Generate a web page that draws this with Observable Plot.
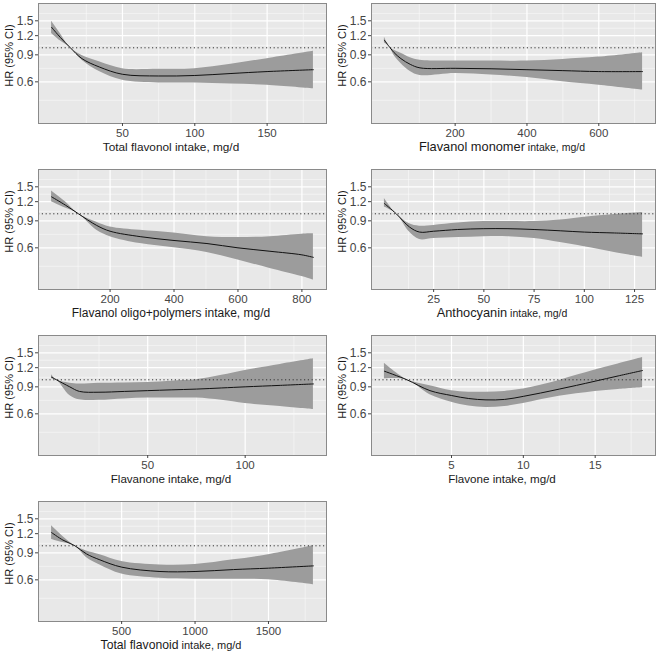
<!DOCTYPE html>
<html><head><meta charset="utf-8">
<script src="https://cdn.jsdelivr.net/npm/d3@7"></script>
<script src="https://cdn.jsdelivr.net/npm/@observablehq/plot@0.6"></script>
<style>
body{margin:0;background:#fff;}
#fig{position:relative;width:661px;height:653px;font-family:"Liberation Sans",Arial,Helvetica,sans-serif;}
.panel{position:absolute;}
</style></head><body><div id="fig"></div>
<script>
// shared y axis (hazard ratio, log scale)
const yTicks = [0.6, 0.9, 1.2, 1.5];
const yMinor = [0.455, 0.735, 1.039, 1.342, 1.677];
const yDomain = [0.321, 1.945];
const refHR = [1];
const yTitle = "HR (95% CI)";

// Panel 1: Total flavonol
const p1X  = [1, 7, 14, 22, 34, 50, 75, 100, 125, 150, 182];
const p1HR = [1.36, 1.17, 1.0, 0.85, 0.75, 0.672, 0.655, 0.66, 0.68, 0.70, 0.72];
const p1Lo = [1.24, 1.11, 1.0, 0.83, 0.70, 0.614, 0.59, 0.59, 0.58, 0.57, 0.54];
const p1Hi = [1.49, 1.24, 1.0, 0.89, 0.81, 0.73, 0.725, 0.73, 0.78, 0.85, 0.95];
const p1Ticks = [50, 100, 150], p1Minor = [25, 75, 125, 175];

// Panel 2: Flavanol monomer
const p2X  = [3, 19, 30, 49, 75, 102, 200, 300, 400, 500, 600, 722];
const p2HR = [1.12, 1.0, 0.93, 0.85, 0.78, 0.74, 0.735, 0.73, 0.72, 0.71, 0.70, 0.70];
const p2Lo = [1.08, 1.0, 0.89, 0.79, 0.70, 0.66, 0.68, 0.665, 0.64, 0.60, 0.57, 0.53];
const p2Hi = [1.17, 1.0, 0.965, 0.92, 0.86, 0.83, 0.82, 0.82, 0.82, 0.84, 0.87, 0.93];
const p2Ticks = [200, 400, 600], p2Minor = [100, 300, 500, 700];

// Panel 3: Flavanol oligo+polymers
const p3X  = [17, 60, 101, 158, 200, 294, 400, 503, 600, 700, 800, 836];
const p3HR = [1.29, 1.14, 1.0, 0.84, 0.77, 0.71, 0.67, 0.64, 0.60, 0.57, 0.54, 0.52];
const p3Lo = [1.20, 1.09, 1.0, 0.78, 0.71, 0.64, 0.60, 0.56, 0.50, 0.44, 0.39, 0.37];
const p3Hi = [1.41, 1.20, 1.0, 0.88, 0.82, 0.78, 0.75, 0.71, 0.70, 0.71, 0.737, 0.74];
const p3Ticks = [200, 400, 600, 800], p3Minor = [100, 300, 500, 700];

// Panel 4: Anthocyanin
const p4X  = [0.5, 6.4, 13, 18, 25, 37, 50, 62, 75, 88, 100, 115, 129];
const p4HR = [1.167, 1.0, 0.82, 0.76, 0.77, 0.79, 0.80, 0.80, 0.79, 0.775, 0.76, 0.75, 0.74];
const p4Lo = [1.107, 1.0, 0.76, 0.68, 0.69, 0.70, 0.71, 0.71, 0.69, 0.65, 0.61, 0.56, 0.52];
const p4Hi = [1.26, 1.0, 0.86, 0.83, 0.84, 0.87, 0.89, 0.89, 0.89, 0.91, 0.95, 0.99, 1.02];
const p4Ticks = [25, 50, 75, 100, 125], p4Minor = [12.5, 37.5, 62.5, 87.5, 112.5];

// Panel 5: Flavanone
const p5X  = [0.7, 3.2, 10, 15, 25, 38, 50, 62, 75, 88, 100, 118, 135];
const p5HR = [1.04, 1.0, 0.90, 0.84, 0.83, 0.84, 0.85, 0.86, 0.87, 0.885, 0.90, 0.92, 0.94];
const p5Lo = [1.015, 1.0, 0.79, 0.74, 0.735, 0.75, 0.76, 0.76, 0.76, 0.735, 0.70, 0.67, 0.64];
const p5Hi = [1.08, 1.0, 0.95, 0.94, 0.95, 0.955, 0.96, 0.98, 1.00, 1.07, 1.15, 1.26, 1.37];
const p5Ticks = [50, 100], p5Minor = [25, 75, 125];

// Panel 6: Flavone
const p6X  = [0.33, 1.9, 3.5, 5, 6.2, 7.4, 8.7, 10, 11.2, 12.5, 13.7, 15, 16.6, 18.3];
const p6HR = [1.138, 1.0, 0.85, 0.79, 0.755, 0.74, 0.745, 0.78, 0.82, 0.87, 0.92, 0.98, 1.06, 1.15];
const p6Lo = [1.015, 1.0, 0.80, 0.715, 0.675, 0.66, 0.67, 0.70, 0.74, 0.78, 0.81, 0.84, 0.865, 0.887];
const p6Hi = [1.28, 1.0, 0.915, 0.85, 0.83, 0.83, 0.84, 0.87, 0.92, 0.99, 1.07, 1.16, 1.27, 1.40];
const p6Ticks = [5, 10, 15], p6Minor = [2.5, 7.5, 12.5, 17.5];

// Panel 7: Total flavonoid
const p7X  = [23, 100, 182, 260, 352, 500, 761, 1000, 1261, 1500, 1806];
const p7HR = [1.22, 1.09, 1.0, 0.886, 0.81, 0.726, 0.68, 0.68, 0.70, 0.715, 0.74];
const p7Lo = [1.10, 1.05, 1.0, 0.84, 0.75, 0.655, 0.615, 0.606, 0.606, 0.60, 0.557];
const p7Hi = [1.35, 1.15, 1.0, 0.925, 0.875, 0.79, 0.75, 0.755, 0.81, 0.875, 1.00];
const p7Ticks = [500, 1000, 1500], p7Minor = [250, 750, 1250, 1750];

const panels = [
  {main: "Total flavonol", mainSize: 11.8, rest: " intake, mg/d", restSize: 11.8, x: p1X, hr: p1HR, lo: p1Lo, hi: p1Hi, ticks: p1Ticks, minor: p1Minor},
  {main: "Flavanol monomer", mainSize: 12.8, rest: " intake, mg/d", restSize: 10.5, x: p2X, hr: p2HR, lo: p2Lo, hi: p2Hi, ticks: p2Ticks, minor: p2Minor},
  {main: "Flavanol oligo+polymers", mainSize: 12, rest: " intake, mg/d", restSize: 12, x: p3X, hr: p3HR, lo: p3Lo, hi: p3Hi, ticks: p3Ticks, minor: p3Minor},
  {main: "Anthocyanin", mainSize: 12.8, rest: " intake, mg/d", restSize: 10.5, x: p4X, hr: p4HR, lo: p4Lo, hi: p4Hi, ticks: p4Ticks, minor: p4Minor},
  {main: "Flavanone", mainSize: 11.6, rest: " intake, mg/d", restSize: 11.6, x: p5X, hr: p5HR, lo: p5Lo, hi: p5Hi, ticks: p5Ticks, minor: p5Minor},
  {main: "Flavone", mainSize: 11.6, rest: " intake, mg/d", restSize: 11.6, x: p6X, hr: p6HR, lo: p6Lo, hi: p6Hi, ticks: p6Ticks, minor: p6Minor},
  {main: "Total flavonoid", mainSize: 12.2, rest: " intake, mg/d", restSize: 11, x: p7X, hr: p7HR, lo: p7Lo, hi: p7Hi, ticks: p7Ticks, minor: p7Minor}
];

const fig = document.getElementById("fig");
const FONT = '"Liberation Sans", Arial, Helvetica, sans-serif';

panels.forEach((p, i) => {
  const col = i % 2, row = Math.floor(i / 2);
  const W = 330, H = 166;
  const mL = col ? 41 : 38, mR = col ? 5 : 4, mT = 3, mB = 43;
  const data = p.x.map((x, k) => ({x, hr: p.hr[k], lo: p.lo[k], hi: p.hi[k]}));
  const [a, b] = d3.extent(p.x);
  const pad = (b - a) * 0.05;
  const chart = Plot.plot({
    width: W, height: H,
    marginLeft: mL, marginRight: mR, marginTop: mT, marginBottom: mB,
    style: {fontFamily: FONT, background: "transparent", overflow: "visible"},
    x: {domain: [a - pad, b + pad]},
    y: {type: "log", domain: yDomain},
    marks: [
      Plot.frame({fill: "#e8e8e8"}),
      Plot.ruleY(yMinor, {stroke: "#fafafa", strokeWidth: 0.6}),
      Plot.ruleY(yTicks, {stroke: "#ffffff", strokeWidth: 1.2}),
      Plot.ruleX(p.minor, {stroke: "#fafafa", strokeWidth: 0.6}),
      Plot.ruleX(p.ticks, {stroke: "#ffffff", strokeWidth: 1.2}),
      Plot.areaY(data, {x: "x", y1: "lo", y2: "hi", fill: "#9c9c9c", curve: "catmull-rom"}),
      Plot.ruleY(refHR, {stroke: "#333", strokeWidth: 1, strokeDasharray: "1.2,2.6"}),
      Plot.line(data, {x: "x", y: "hr", stroke: "#111", strokeWidth: 1, curve: "catmull-rom"}),
      Plot.frame({stroke: "#8a8a8a", strokeWidth: 1}),
      Plot.axisX({ticks: p.ticks, tickSize: 3, tickPadding: 2, fontSize: 11.5, label: null, color: "#444", tickFormat: d3.format("d")}),
      Plot.axisY({ticks: yTicks, tickSize: 3, tickPadding: 2, fontSize: 12, label: null, tickFormat: ".1f", color: "#444"}),
      Plot.text([yTitle], {frameAnchor: "left", textAnchor: "middle", dx: -29, dy: -8, rotate: -90, fontSize: 11, fill: "#1a1a1a"})
    ]
  });
  const svg = d3.select(chart);
  const cx = mL + (W - mL - mR) / 2 - 11;
  const t = svg.append("text")
    .attr("x", cx).attr("y", H - mB + 27.5)
    .attr("text-anchor", "middle")
    .attr("fill", "#1a1a1a")
    .style("white-space", "pre")
    .style("font-family", FONT);
  t.append("tspan").attr("font-size", p.mainSize).text(p.main);
  t.append("tspan").attr("font-size", p.restSize).text(p.rest);
  const div = document.createElement("div");
  div.className = "panel";
  div.style.left = (col * 330) + "px";
  div.style.top = Math.round(row * 166.1) + "px";
  div.appendChild(chart);
  fig.appendChild(div);
});
</script>
</body></html>
